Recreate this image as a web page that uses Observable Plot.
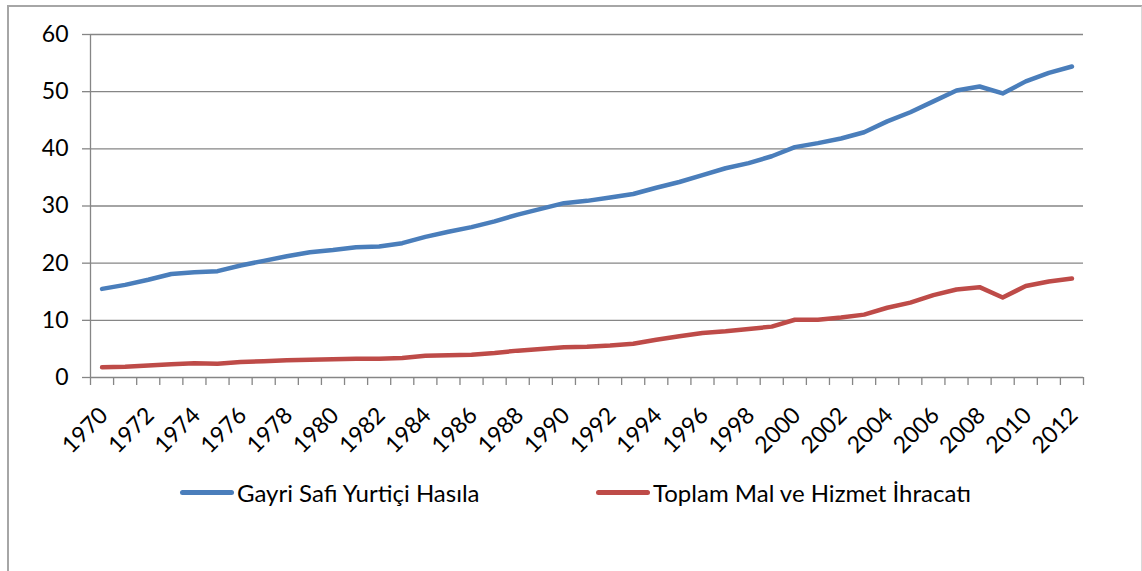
<!DOCTYPE html>
<html>
<head>
<meta charset="utf-8">
<script src="https://cdn.jsdelivr.net/npm/d3@7"></script>
<script src="https://cdn.jsdelivr.net/npm/@observablehq/plot@0.6"></script>
<style>
  html, body { margin: 0; padding: 0; background: #fff; width: 1142px; height: 571px; overflow: hidden; }
  #frame { position: absolute; left: 7px; top: 5px; width: 1132px; height: 600px;
           border-left: 2px solid #a6a6a6; border-top: 2px solid #a6a6a6; border-right: 2px solid #d9d9d9; }
  #chart { position: absolute; left: 0; top: 0; }
  #legend { position: absolute; left: 0; top: 477px; width: 1142px; height: 30px; font-family: Lato, sans-serif; font-size: 24px; color: #000; }
  .item { position: absolute; top: 0; display: flex; align-items: center; height: 30px; white-space: nowrap; }
  .sw { display: inline-block; width: 54px; height: 5px; border-radius: 3px; margin-right: 3px; }
</style>
</head>
<body>
<div id="frame"></div>
<div id="chart"></div>
<div id="legend"></div>
<script>
const years = d3.range(1970, 2013);
const seriesNames = ["Gayri Safi Yurtiçi Hasıla", "Toplam Mal ve Hizmet İhracatı"];
const seriesColors = ["#4a7ebb", "#be4b48"];
const gdp = [15.5, 16.2, 17.1, 18.1, 18.4, 18.6, 19.6, 20.4, 21.2, 21.9,
             22.3, 22.8, 22.9, 23.5, 24.6, 25.5, 26.3, 27.3, 28.5, 29.5,
             30.5, 30.9, 31.5, 32.1, 33.2, 34.2, 35.4, 36.6, 37.5, 38.7,
             40.3, 41.0, 41.8, 42.9, 44.8, 46.4, 48.3, 50.2, 50.9, 49.7,
             51.8, 53.3, 54.4];
const exportsTotal = [1.8, 1.9, 2.1, 2.3, 2.5, 2.4, 2.7, 2.85, 3.0, 3.1,
             3.2, 3.3, 3.3, 3.4, 3.8, 3.9, 4.0, 4.3, 4.7, 5.0,
             5.3, 5.4, 5.6, 5.9, 6.6, 7.2, 7.8, 8.1, 8.5, 8.9,
             10.1, 10.1, 10.5, 11.0, 12.2, 13.1, 14.4, 15.4, 15.8, 14.0,
             16.0, 16.8, 17.3];
const yTicks = [0, 10, 20, 30, 40, 50, 60];
const xLabelYears = d3.range(1970, 2013, 2);

const rows = [];
years.forEach((yr, i) => {
  rows.push({year: yr, value: gdp[i], series: seriesNames[0]});
  rows.push({year: yr, value: exportsTotal[i], series: seriesNames[1]});
});
const xBounds = [years[0] - 0.5, years[years.length - 1] + 0.5];
const tickBounds = d3.range(xBounds[0], xBounds[1] + 0.01, 1);
const gridColor = "#868686";

const chart = Plot.plot({
  width: 1142,
  height: 460,
  marginLeft: 90,
  marginRight: 59,
  marginTop: 34,
  marginBottom: 83,
  x: {domain: xBounds},
  y: {domain: [0, 60]},
  color: {domain: seriesNames, range: seriesColors},
  style: {fontFamily: "Lato, sans-serif", fontSize: "23px", color: "#000", background: "transparent", overflow: "visible"},
  marks: [
    Plot.ruleY(yTicks, {stroke: gridColor, strokeWidth: 1.3}),
    Plot.ruleX([xBounds[0]], {stroke: gridColor, strokeWidth: 1.3}),
    Plot.axisY({ticks: yTicks, tickSize: 8, tickPadding: 14, stroke: gridColor, strokeWidth: 1.3, label: null, fontSize: 23}),
    Plot.axisX({ticks: tickBounds, tickSize: 8, tickFormat: () => "", stroke: gridColor, strokeWidth: 1.3, label: null}),
    Plot.axisX({ticks: xLabelYears, tickSize: 0, tickPadding: 34, dx: 2, tickRotate: -45, textAnchor: "end", lineAnchor: "middle", tickFormat: "d", label: null, fontSize: 23}),
    Plot.line(rows, {x: "year", y: "value", z: "series", stroke: "series", strokeWidth: 4.5, strokeLinecap: "round", strokeLinejoin: "round"})
  ]
});
document.getElementById("chart").appendChild(chart);

const legendPos = [180, 596];
const legend = document.getElementById("legend");
seriesNames.forEach((name, i) => {
  const item = document.createElement("div");
  item.className = "item";
  item.style.left = legendPos[i] + "px";
  const sw = document.createElement("span");
  sw.className = "sw";
  sw.style.background = seriesColors[i];
  item.appendChild(sw);
  const t = document.createElement("span");
  t.textContent = name;
  item.appendChild(t);
  legend.appendChild(item);
});
</script>
</body>
</html>
